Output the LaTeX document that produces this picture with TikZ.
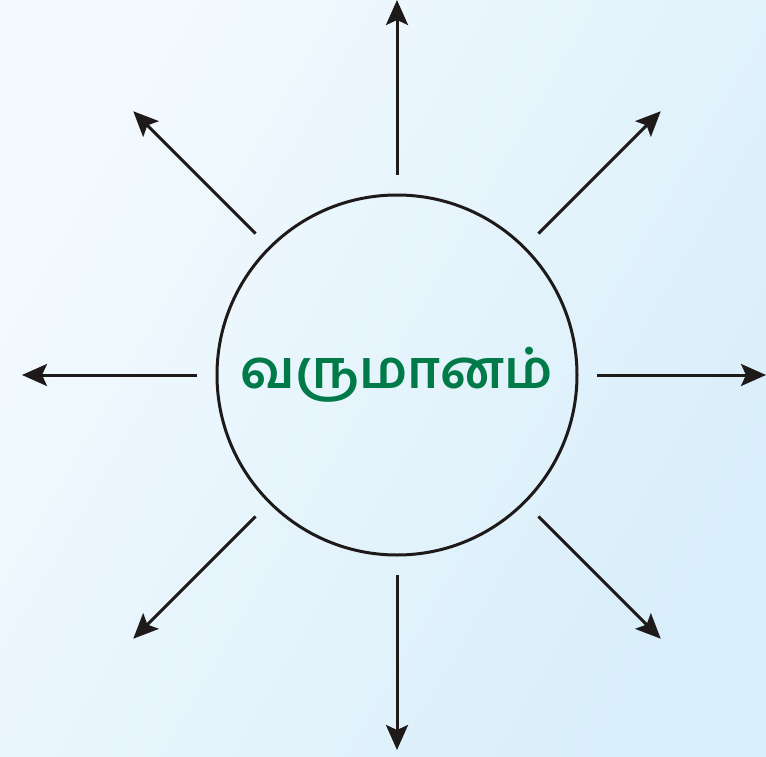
\documentclass[tikz,border=0pt]{standalone}
\usepackage{fontspec}
\newfontfamily\tamilfont[Script=Tamil]{Hind Madurai}
\usetikzlibrary{arrows.meta,calc}
\definecolor{bgleft}{HTML}{F3FAFE}
\definecolor{bgright}{HTML}{D8EEFA}
\definecolor{txtgreen}{HTML}{007A48}
\definecolor{inkline}{HTML}{1E1A1A}
\tikzset{
  ray/.style={draw=inkline, line width=3pt, -{Stealth[length=25pt,width=22pt,inset=5pt]}},
  hub/.style={circle, draw=inkline, line width=3pt, minimum size=360pt, inner sep=0pt,
    font=\tamilfont\bfseries\fontsize{53pt}{60pt}\selectfont, text=txtgreen}
}
\begin{document}
\begin{tikzpicture}[x=1pt,y=-1pt]
\shade[left color=bgleft, right color=bgright, shading angle=60] (0,0) rectangle (766,757);
\useasboundingbox (0,0) rectangle (766,757);
\node[hub] (c) at (397,375) {வருமானம்};
\foreach \a/\r [count=\i] in {-90/375, 90/375, 180/375, 0/369, -135/373, -45/373, 135/373, 45/373}{
  \coordinate (s\i) at ($(c.center)+(\a:200)$);
  \coordinate (e\i) at ($(c.center)+(\a:\r)$);
  \draw[ray] (s\i) -- (e\i);
}
\end{tikzpicture}
\end{document}
